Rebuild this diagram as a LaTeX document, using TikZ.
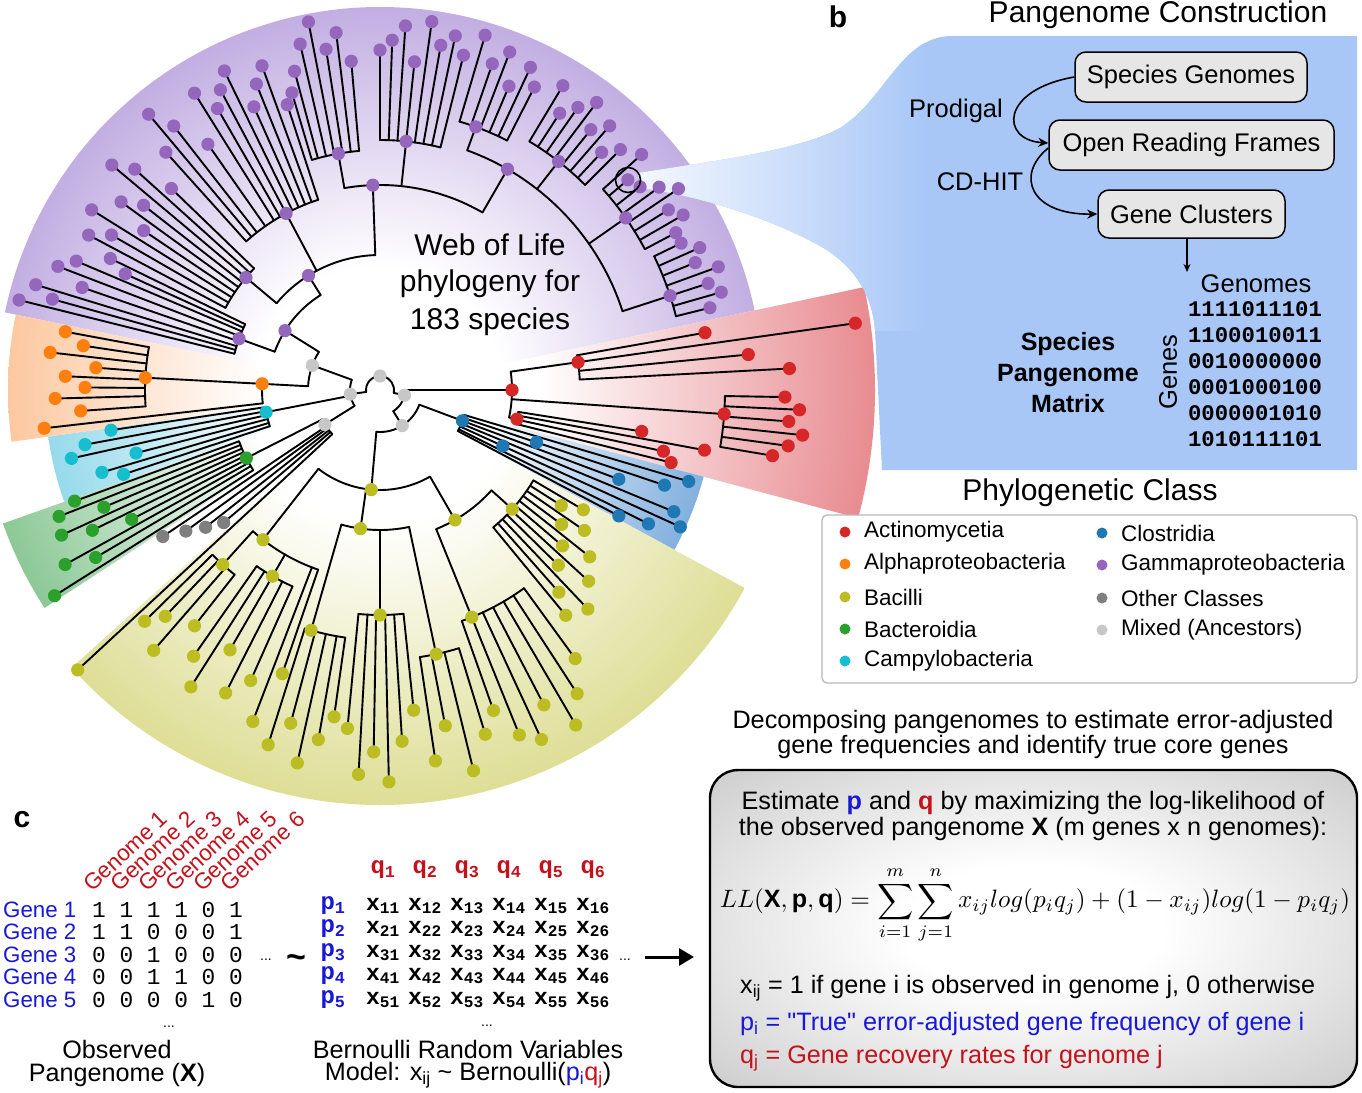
\documentclass[tikz,border=0pt]{standalone}
\usepackage{fontspec}
\setmainfont{Liberation Sans}
\setmonofont{Liberation Mono}
\usepackage{graphicx}
\usetikzlibrary{arrows.meta}
\definecolor{cRed}{RGB}{214,39,40}
\definecolor{cOra}{RGB}{255,127,14}
\definecolor{cYel}{RGB}{188,189,34}
\definecolor{cGrn}{RGB}{44,160,44}
\definecolor{cCya}{RGB}{23,190,207}
\definecolor{cBlu}{RGB}{31,119,180}
\definecolor{cPur}{RGB}{148,103,189}
\definecolor{cGry}{RGB}{127,127,127}
\definecolor{cLG}{RGB}{199,199,199}
\definecolor{sPur}{RGB}{194,174,226}
\definecolor{sRed}{RGB}{232,140,145}
\definecolor{sBlu}{RGB}{130,176,222}
\definecolor{sYel}{RGB}{222,222,150}
\definecolor{sGrn}{RGB}{140,200,150}
\definecolor{sCya}{RGB}{150,218,235}
\definecolor{sOra}{RGB}{252,200,160}
\definecolor{bB}{RGB}{168,199,247}
\definecolor{boxG}{RGB}{230,230,230}
\definecolor{tRed}{RGB}{196,18,28}
\definecolor{tBlue}{RGB}{24,24,214}
\definecolor{fg1}{RGB}{226,226,226}
\definecolor{fg2}{RGB}{200,200,200}
\pgfdeclarelayer{bg}
\pgfdeclarelayer{front}
\pgfsetlayers{bg,main,front}
\pgfdeclareradialshading{shPur}{\pgfpointorigin}{color(0bp)=(white); color(8bp)=(white); color(25bp)=(sPur); color(50bp)=(sPur)}
\pgfdeclareradialshading{shRed}{\pgfpointorigin}{color(0bp)=(white); color(8bp)=(white); color(25bp)=(sRed); color(50bp)=(sRed)}
\pgfdeclareradialshading{shBlu}{\pgfpointorigin}{color(0bp)=(white); color(8bp)=(white); color(25bp)=(sBlu); color(50bp)=(sBlu)}
\pgfdeclareradialshading{shYel}{\pgfpointorigin}{color(0bp)=(white); color(8bp)=(white); color(25bp)=(sYel); color(50bp)=(sYel)}
\pgfdeclareradialshading{shGrn}{\pgfpointorigin}{color(0bp)=(white); color(8bp)=(white); color(25bp)=(sGrn); color(50bp)=(sGrn)}
\pgfdeclareradialshading{shCya}{\pgfpointorigin}{color(0bp)=(white); color(8bp)=(white); color(25bp)=(sCya); color(50bp)=(sCya)}
\pgfdeclareradialshading{shOra}{\pgfpointorigin}{color(0bp)=(white); color(8bp)=(white); color(25bp)=(sOra); color(50bp)=(sOra)}
\pgfdeclareradialshading{shBox}{\pgfpointorigin}{color(0bp)=(white); color(10bp)=(white); color(25bp)=(fg1); color(38bp)=(fg2); color(50bp)=(fg2)}
\newcommand\FS[1]{\fontsize{#1}{#1}\selectfont}
\newcommand\sub[1]{\textsubscript{#1}}
\newcommand\ARC[3]{\draw[br] (#1:#3) arc[start angle=#1, end angle=#2, radius=#3pt];}
\newcommand\RAD[3]{\draw[br] (#1:#2) -- (#1:#3);}
\newcommand\DOT[3]{\begin{pgfonlayer}{front}\fill[#3] (#1:#2) circle[radius=6.6pt];\end{pgfonlayer}}
\newcommand\STEM[4]{\RAD{#1}{#2}{#3}\DOT{#1}{#3}{#4}}
\newcommand\CLADE[5]{\ARC{#1}{#2}{#3}\foreach \a/\t in {#5}{\RAD{\a}{#3}{\t}\DOT{\a}{\t}{#4}}}
\newcommand\WEDGE[4]{\begin{scope}\clip (0,0) -- (#1:#3) arc[start angle=#1,end angle=#2,radius=#3pt] -- cycle;\shade[shading=#4] (0,0) circle[radius=#3pt];\end{scope}}
\begin{document}
\begin{tikzpicture}[x=1pt,y=1pt,
  br/.style={line width=1.9pt,line cap=round,line join=round},
  every node/.style={inner sep=0pt},
  pbox/.style={draw=black,line width=1.5pt,fill=boxG,rounded corners=11pt,font=\FS{25.5}},
  arr/.style={line width=1.6pt,-{Stealth[length=10pt,width=9pt]}},
  big/.style={font=\FS{30}},
  txt/.style={font=\FS{25.2}}]
\useasboundingbox (0,0) rectangle (1362,-1092);
\begin{pgfonlayer}{bg}
\fill[white] (0,0) rectangle (1362,-1092);
\end{pgfonlayer}
% ================= TREE =================
\begin{scope}[shift={(380,-390)}]
\begin{pgfonlayer}{bg}
 \WEDGE{12}{168.3}{383}{shPur}
 \WEDGE{-15}{12}{495}{shRed}
 \WEDGE{-28.5}{-15}{335}{shBlu}
 \WEDGE{222}{331.5}{415}{shYel}
 \WEDGE{199.5}{213}{400}{shGrn}
 \WEDGE{188}{199.5}{335}{shCya}
 \WEDGE{168.3}{188}{372}{shOra}
\end{pgfonlayer}
% root
\ARC{-12}{188}{14}
\DOT{90}{14}{cLG}
\STEM{188}{14}{30}{cLG}
\ARC{160}{212}{30}
\STEM{160}{30}{72}{cLG}
\ARC{148}{177}{72}
\STEM{212}{30}{65}{cLG}
\ARC{207}{222.8}{65}
\STEM{-12}{14}{25}{cLG}
\ARC{-58}{0}{25}
\STEM{-58}{25}{42}{cLG}
\ARC{-95}{-20.5}{42}
% purple
\STEM{148}{72}{112}{cPur}
\ARC{122}{160}{112}
\STEM{160}{112}{150}{cPur}
\CLADE{154}{166}{150}{cPur}{154/300,155.5/280,157/330,159/345,161/315,163/360,164.5/340,166/372}
\STEM{122}{112}{135}{cPur}
\ARC{92}{140}{135}
\STEM{140}{135}{175}{cPur}
\CLADE{136}{152}{175}{cPur}{136/290,138/330,140/350,142/300,144/320,146/285,148/340,150/310,152/330}
\STEM{118}{135}{200}{cPur}
\CLADE{108}{132}{200}{cPur}{108/300,110/345,112/330,114/310,116/355,118/340,120/325,122/350,125/300,128/335,130/360,132/320}
\STEM{92}{135}{205}{cPur}
\ARC{60}{100}{205}
\STEM{100}{205}{240}{cPur}
\CLADE{95}{106.5}{240}{cPur}{95/330,97/360,99/345,101/375,103/355,105/330,106.5/310}
\STEM{84}{205}{250}{cPur}
\CLADE{76}{90}{250}{cPur}{76/345,78/362,80/350,82/372,84/330,86/365,88/350,90/340}
\STEM{60}{205}{255}{cPur}
\ARC{18}{70}{255}
\STEM{70}{255}{280}{cPur}
\CLADE{63}{73.5}{280}{cPur}{63/340,65/356,67/330,69/362,71/345,73.5/370}
\STEM{52}{255}{290}{cPur}
\CLADE{45}{59}{290}{cPur}{45/340,47/325,49/350,51/335,53/360,55/345,57/330,59/355}
\STEM{35}{255}{300}{cPur}
\CLADE{28}{42}{300}{cPur}{28/335,30/350,32/340,34/360,36/345,38/330,40.3/325,42/352}
\STEM{18}{255}{305}{cPur}
\CLADE{14}{26}{305}{cPur}{14/340,16/355,18/345,20/360,22/340,24/350,26/335}
% orange
\STEM{177}{72}{118}{cOra}
\ARC{177}{186.5}{118}
\STEM{177}{118}{235}{cOra}
\CLADE{169.5}{184}{235}{cOra}{169.5/320,171.5/300,173.5/332,175.5/285,177.5/315,179.5/295,181.5/325,184/300}
\RAD{186.5}{118}{338}\DOT{186.5}{338}{cOra}
% cyan
\STEM{191}{30}{116}{cCya}
\CLADE{188.5}{198.2}{116}{cCya}{188.5/272,190.5/300,192.5/316,194.5/252,196.5/290,198.2/270}
% green
\STEM{207}{65}{150}{cGrn}
\CLADE{200}{212.3}{150}{cGrn}{200/325,201.5/345,203/300,204.5/350,206/320,207.5/280,209/360,210.5/330,212.3/385}
% other classes
\foreach \a/\t in {214/262,216/240,218.2/222,220.3/205}{\RAD{\a}{65}{\t}\DOT{\a}{\t}{cGry}}
\RAD{222.8}{65}{412}\DOT{222.8}{412}{cYel}
% red
\STEM{0}{25}{132}{cRed}
\ARC{-12}{8}{132}
\STEM{8}{132}{200}{cRed}
\CLADE{3}{10}{200}{cRed}{3/410,5.5/370,8/480,10/330}
\STEM{-4}{132}{345}{cRed}
\CLADE{-9.5}{-1}{345}{cRed}{-1/405,-2.7/420,-4.4/410,-6.1/425,-7.8/412,-9.5/398}
\STEM{-12}{132}{140}{cRed}
\CLADE{-14}{-9}{140}{cRed}{-9/265,-10.5/330,-12.2/290,-14/300}
% blue
\STEM{-20.5}{42}{88}{cBlu}
\CLADE{-27.8}{-16.5}{88}{cBlu}{-16.5/322,-18.5/300,-20.5/255,-22.5/318,-24.5/330,-26.5/300,-27.8/270}
\DOT{-24.5}{135}{cBlu}\DOT{-18.5}{165}{cBlu}
% yellow
\STEM{265}{42}{100}{cYel}
\ARC{232}{300}{100}
\STEM{232}{100}{190}{cYel}
\ARC{228}{251}{190}
\STEM{228}{190}{235}{cYel}
\CLADE{224.5}{231.8}{235}{cYel}{224.5/330,226.5/312,229/345,231.8/300}
\STEM{240}{190}{215}{cYel}
\CLADE{235}{246}{215}{cYel}{235/325,237.5/352,240/300,243/340,246/318}
\foreach \a/\t in {249/355,251/300}{\RAD{\a}{190}{\t}\DOT{\a}{\t}{cYel}}
\STEM{262}{100}{140}{cYel}
\ARC{254}{282}{140}
\STEM{254}{140}{250}{cYel}
\CLADE{252.5}{262}{250}{cYel}{252.5/372,255/345,257.5/382,260/355,262/330}
\STEM{270}{140}{225}{cYel}
\CLADE{264.5}{276}{225}{cYel}{264.5/340,266.8/385,269/362,271.3/392,273.6/352,276/322}
\STEM{282}{140}{270}{cYel}
\CLADE{278.5}{287}{270}{cYel}{278.5/375,281/342,283.8/392,287/360}
\STEM{300}{100}{150}{cYel}
\ARC{292}{318}{150}
\STEM{292}{150}{245}{cYel}
\CLADE{289.5}{306}{245}{cYel}{289.5/340,292/372,294.8/385,297.5/355,300.3/388,303/362,306/332}
\STEM{318}{150}{178}{cYel}
\CLADE{309.5}{329.5}{178}{cYel}{309.5/292,311.5/270,313.5/302,315.5/250,317.5/283,319.5/240,321.5/268,323.5/226,325.5/248,327.5/215,329.5/236}
\end{scope}
\node[big] (wol) at (490,-245) {Web of Life};
\node[big] (phy) at (490,-284) {phylogeny for};
\node[big] (spc) at (490,-322) {183 species};
% ================= PANEL B =================
\begin{pgfonlayer}{bg}
\fill[bB] (638,-173) .. controls (720,-160) and (800,-150) .. (840,-128) .. controls (885,-100) and (900,-38) .. (950,-36) -- (1357,-36) -- (1357,-470) -- (882,-470) -- (875,-330) .. controls (872,-292) and (852,-265) .. (822,-247) .. controls (770,-218) and (700,-196) .. (640,-188) -- cycle;
\begin{scope}
\clip (638,-173) .. controls (720,-160) and (800,-150) .. (840,-128) .. controls (885,-100) and (900,-38) .. (950,-36) -- (1357,-36) -- (1357,-470) -- (882,-470) -- (875,-330) .. controls (872,-292) and (852,-265) .. (822,-247) .. controls (770,-218) and (700,-196) .. (640,-188) -- cycle;
\shade[left color=bB!12, right color=bB] (634,-20) rectangle (925,-330);
\end{scope}
\end{pgfonlayer}
\begin{pgfonlayer}{front}
\node[draw,circle,line width=1.6pt,minimum size=25pt] (mark) at (628,-180) {};
\end{pgfonlayer}
\node[font=\FS{30}\bfseries] (lb) at (838,-17) {b};
\node[big] (pc) at (1158,-15) {Pangenome Construction};
\node[pbox,minimum width=232pt,minimum height=50pt] (sg) at (1191,-77) {Species Genomes};
\node[pbox,minimum width=285pt,minimum height=50pt] (orf) at (1191.5,-145) {Open Reading Frames};
\node[pbox,minimum width=187pt,minimum height=48pt] (gc) at (1191.5,-214) {Gene Clusters};
\node[font=\FS{25.5}] (prod) at (956,-111) {Prodigal};
\node[font=\FS{25.5}] (cdh) at (980,-182) {CD-HIT};
\draw[arr] (sg.west) .. controls (1000,-90) and (1000,-140) .. ([yshift=2pt]orf.west);
\draw[arr] ([yshift=-3pt]orf.west) .. controls (1015,-175) and (1030,-215) .. (gc.west);
\coordinate (mtop) at (1187,-272);
\draw[line width=1.5pt,-{Stealth[length=8pt,width=7pt]}] (gc.south -| mtop) -- (mtop);
\node[font=\FS{25.5}] (gen) at (1256,-284) {Genomes};
\foreach \k/\y/\r in {1/309/1111011101,2/335/1100010011,3/361/0010000000,4/387/0001000100,5/413/0000001010,6/439/1010111101}
  {\node[font=\FS{22.3}\ttfamily\bfseries] (mr\k) at (1255,-\y) {\r};}
\node[font=\FS{25.5},rotate=90] (gns) at (1168,-372) {Genes};
\node[font=\FS{25}\bfseries,align=center] (spm) at (1068,-373) {Species\\[6pt]Pangenome\\[6pt]Matrix};
% ================= LEGEND =================
\node[big] (phc) at (1090,-493) {Phylogenetic Class};
\node[draw=black!28,line width=1.3pt,rounded corners=5pt,fill=white,minimum width=535pt,minimum height=168pt] (leg) at (1089.5,-599) {};
\foreach \n/\c/\x/\y/\t in {1/cRed/845/532/Actinomycetia,2/cOra/845/564/Alphaproteobacteria,3/cYel/845/597/Bacilli,4/cGrn/845/629/Bacteroidia,5/cCya/845/661/Campylobacteria,6/cBlu/1102/533/Clostridia,7/cPur/1102/565/Gammaproteobacteria,8/cGry/1102/598/Other Classes,9/cLG/1102/630/Mixed (Ancestors)}
  {\fill[\c] (\x,-\y) circle[radius=5.5pt];
   \node[anchor=west,font=\FS{22.5}] (le\n) at (\x+19,-\y) {\t};}
% ================= PANEL C =================
\node[font=\FS{30}\bfseries] (lc) at (22,-820) {c};
\foreach \k in {1,...,6}
  {\node[tRed,rotate=43,anchor=base west,font=\FS{22.5}] (gl\k) at ({92+27.5*(\k-1)},-893) {Genome \k};}
\foreach \k/\y/\r in {1/910/1 1 1 1 0 1,2/932/1 1 0 0 0 1,3/955/0 0 1 0 0 0,4/977/0 0 1 1 0 0,5/1000/0 0 0 0 1 0}
  {\node[tBlue,anchor=west,font=\FS{22.3}] (gn\k) at (3,-\y) {Gene \k};
   \node[anchor=west,font=\FS{22.8}\ttfamily] (xr\k) at (92,-\y) {\r};}
\node[font=\FS{14}] (dd1) at (266,-960) {...};
\node[font=\FS{34}\bfseries] (tl) at (296,-962) {\textasciitilde};
\node[font=\FS{14}] (dd2) at (169,-1027) {...};
\node[txt] (obs1) at (117,-1049) {Observed};
\node[txt] (obs2) at (117,-1075) {Pangenome (\textbf{X})};
\foreach \j in {1,...,6}
  {\node[tRed,font=\FS{24}\ttfamily\bfseries] (q\j) at ({383+42*(\j-1)},-870) {q\sub{\j}};}
\foreach \i/\y in {1/906,2/929,3/953,4/976,5/1000}
  {\node[tBlue,font=\FS{24}\ttfamily\bfseries] (p\i) at (333,-\y) {p\sub{\i}};
   \foreach \j in {1,...,6}
     {\node[font=\FS{23}\ttfamily\bfseries] (x\i\j) at ({383+42*(\j-1)},-\y) {x\sub{\i\j}};}}
\node[font=\FS{14}] (dd3) at (625,-960) {...};
\node[font=\FS{14}] (dd4) at (487,-1026) {...};
\coordinate (aS) at (645,-957);
\coordinate (aE) at (694,-957);
\draw[line width=3pt,-{Triangle[length=15pt,width=17pt]}] (aS) -- (aE);
\node[txt] (brv) at (468,-1049) {Bernoulli Random Variables};
\node[txt] (mdl) at (468,-1075) {Model: x\sub{ij} \textasciitilde{} Bernoulli(\textcolor{tBlue}{p\sub{i}}\textcolor{tRed}{q\sub{j}})};
\node[txt] (dc1) at (1033,-722) {Decomposing pangenomes to estimate error-adjusted};
\node[txt] (dc2) at (1033,-747) {gene frequencies and identify true core genes};
\node[draw,line width=2.4pt,rounded corners=28pt,shading=shBox,shade,minimum width=647pt,minimum height=317pt] (fbox) at (1033.5,-928.5) {};
\node[txt] (e1) at (1033,-803) {Estimate \textcolor{tBlue}{\textbf{p}} and \textcolor{tRed}{\textbf{q}} by maximizing the log-likelihood of};
\node[txt] (e2) at (1033,-829) {the observed pangenome \textbf{X} (m genes x n genomes):};
\node (frm) at (1035,-905) {\resizebox{630pt}{!}{$\displaystyle LL(\mathbf{X},\mathbf{p},\mathbf{q}) = \sum_{i=1}^{m}\sum_{j=1}^{n} x_{ij}log(p_iq_j) + (1-x_{ij})log(1-p_iq_j)$}};
\node[anchor=west,txt] (l1) at (740,-988) {x\sub{ij} = 1 if gene i is observed in genome j, 0 otherwise};
\node[anchor=west,txt,tBlue] (l2) at (740,-1024) {p\sub{i} = \textquotedbl True\textquotedbl{} error-adjusted gene frequency of gene i};
\node[anchor=west,txt,tRed] (l3) at (740,-1058) {q\sub{j} = Gene recovery rates for genome j};
\end{tikzpicture}
\end{document}
